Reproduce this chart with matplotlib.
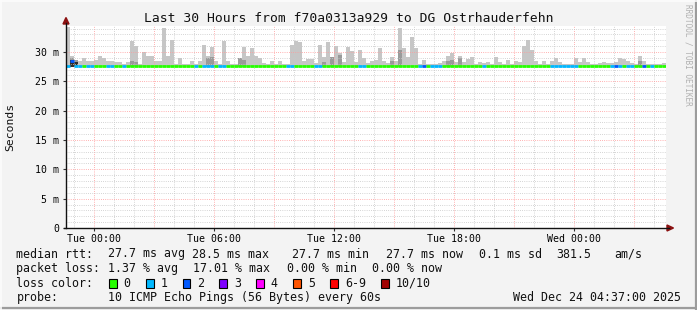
import matplotlib
matplotlib.use("Agg")
import matplotlib.pyplot as plt
from matplotlib.patches import Rectangle, Polygon
from matplotlib.lines import Line2D

W, H, DPI = 697, 310, 100
MONO = "DejaVu Sans Mono"

# ---------------- data ----------------
title = "Last 30 Hours from f70a0313a929 to DG Ostrhauderfehn"
t_start = -1.3833          # Mon 22:37 in hours relative to Tue 00:00
bin_hours = 0.2            # 12 minute consolidation steps
smoke_low = 27.5
smoke_max = [
    34.2, 29.4, 28.4, 28.4, 29.0, 28.4, 28.4, 28.7, 29.4, 29.0,
    28.4, 28.4, 28.3, 28.3, 28.0, 28.3, 31.9, 31.0, 28.0, 30.0,
    29.3, 29.3, 28.4, 28.4, 34.1, 29.4, 32.0, 28.0, 29.0, 28.0,
    28.0, 28.4, 28.0, 28.4, 31.2, 29.3, 30.8, 28.4, 28.0, 31.9,
    28.4, 28.0, 28.0, 28.4, 30.8, 29.4, 30.7, 29.4, 28.9, 28.2,
    28.0, 28.4, 28.0, 28.4, 28.0, 28.0, 31.2, 31.9, 31.7, 28.4,
    28.8, 28.8, 28.2, 31.2, 29.2, 31.7, 29.2, 31.0, 29.8, 28.3,
    30.8, 30.2, 28.3, 30.4, 28.9, 28.2, 28.4, 28.6, 30.7, 28.4,
    28.2, 29.2, 28.4, 34.1, 30.7, 29.2, 32.6, 30.7, 28.0, 28.6,
    28.0, 28.0, 28.0, 28.2, 28.4, 29.4, 29.8, 28.3, 29.4, 28.3,
    28.8, 29.2, 28.0, 28.3, 28.2, 28.3, 28.0, 29.2, 28.3, 28.0,
    28.6, 28.0, 28.4, 28.3, 31.0, 32.0, 30.3, 28.4, 28.0, 28.4,
    28.0, 28.4, 29.0, 28.3, 28.0, 28.0, 28.0, 28.9, 28.3, 29.0,
    28.3, 28.0, 28.0, 28.2, 28.3, 28.2, 28.2, 28.3, 29.0, 28.8,
    28.4, 28.2, 28.0, 29.4, 28.4, 27.9, 27.9, 27.9, 28.0, 28.2,
]
dark_bins = [1, 2, 16, 17, 35, 36, 43, 44, 64, 66, 68, 81, 83, 95, 96, 98, 143]
dark_top = [28.9, 28.6, 28.5, 28.3, 28.9, 29.1, 28.9, 28.7, 28.3, 29.1, 29.5,
            28.5, 30.3, 28.4, 28.6, 28.9, 28.4]
black_bins = [1, 2]
black_top = [28.6, 28.3]
median = [
    27.7, 28.5, 27.7, 27.7, 27.7, 27.7, 27.7, 27.7, 27.7, 27.7,
    27.7, 27.7, 27.7, 27.7, 27.7, 27.7, 27.7, 27.7, 27.7, 27.7,
    27.7, 27.7, 27.7, 27.7, 27.7, 27.7, 27.7, 27.7, 27.7, 27.7,
    27.7, 27.7, 27.7, 27.7, 27.7, 27.7, 27.7, 27.7, 27.7, 27.7,
    27.7, 27.7, 27.7, 27.7, 27.7, 27.7, 27.7, 27.7, 27.7, 27.7,
    27.7, 27.7, 27.7, 27.7, 27.7, 27.6, 27.6, 27.7, 27.7, 27.6,
    27.7, 27.6, 27.6, 27.6, 27.7, 27.7, 27.7, 27.7, 27.7, 27.7,
    27.7, 27.7, 27.7, 27.6, 27.6, 27.6, 27.7, 27.7, 27.7, 27.7,
    27.7, 27.7, 27.7, 27.7, 27.7, 27.7, 27.7, 27.7, 27.7, 27.7,
    27.7, 27.7, 27.7, 27.7, 27.7, 27.7, 27.7, 27.7, 27.7, 27.7,
    27.7, 27.7, 27.7, 27.7, 27.6, 27.7, 27.7, 27.6, 27.7, 27.7,
    27.7, 27.7, 27.7, 27.7, 27.7, 27.7, 27.7, 27.7, 27.7, 27.7,
    27.7, 27.6, 27.6, 27.6, 27.6, 27.6, 27.6, 27.6, 27.7, 27.7,
    27.7, 27.7, 27.7, 27.7, 27.7, 27.7, 27.6, 27.7, 27.6, 27.7,
    27.6, 27.6, 27.7, 27.7, 27.7, 27.7, 27.6, 27.7, 27.7, 27.7,
]
loss = [
    1, 2, 1, 1, 0, 1, 1, 0, 0, 0,
    1, 1, 0, 0, 1, 0, 0, 0, 0, 0,
    0, 0, 0, 0, 0, 0, 0, 0, 0, 0,
    0, 0, 1, 0, 1, 1, 1, 0, 1, 1,
    0, 0, 0, 0, 0, 0, 0, 0, 0, 0,
    0, 0, 0, 0, 0, 1, 1, 0, 0, 0,
    0, 0, 1, 1, 0, 0, 0, 0, 0, 0,
    0, 0, 0, 1, 1, 0, 0, 0, 0, 0,
    0, 0, 0, 0, 0, 0, 0, 0, 1, 2,
    0, 1, 1, 1, 0, 0, 0, 0, 0, 0,
    0, 0, 0, 0, 1, 0, 0, 0, 0, 0,
    0, 0, 0, 0, 0, 0, 0, 0, 0, 0,
    0, 1, 1, 1, 1, 1, 1, 1, 0, 0,
    0, 0, 0, 0, 0, 0, 1, 2, 1, 0,
    1, 1, 0, 0, 2, 0, 1, 0, 0, 0,
]
loss_colors = ["#26ff00", "#00b8ff", "#0059ff", "#7e00ff", "#ff00ff",
               "#ff5500", "#ff0000", "#a10000"]
loss_labels = ["0", "1", "2", "3", "4", "5", "6-9", "10/10"]
y_ticks = [0, 5, 10, 15, 20, 25, 30]
y_tick_labels = ["0", "5 m", "10 m", "15 m", "20 m", "25 m", "30 m"]
x_ticks = [0, 6, 12, 18, 24]
x_tick_labels = ["Tue 00:00", "Tue 06:00", "Tue 12:00", "Tue 18:00", "Wed 00:00"]
legend_rows = [
    [("median rtt:", 16.4), ("27.7 ms avg", 107.6), ("28.5 ms max", 192.0),
     ("27.7 ms min", 292.0), ("27.7 ms now", 385.8), ("0.1 ms sd", 479.0),
     ("381.5", 556.4), ("am/s", 614.2)],
    [("packet loss:", 16.4), ("1.37 % avg", 107.6), ("17.01 % max", 193.3),
     ("0.00 % min", 286.7), ("0.00 % now", 372.4)],
]
probe_text = "10 ICMP Echo Pings (56 Bytes) every 60s"
stamp_text = "Wed Dec 24 04:37:00 2025"

# ---------------- figure ----------------
fig = plt.figure(figsize=(W / DPI, H / DPI), dpi=DPI, facecolor="#f3f3f3")


def fx(px):
    return px / W


def fy(py):
    return 1 - py / H


AX_L, AX_R, AX_B, AX_T = 66.0, 666.0, 228.0, 26.2
ax = fig.add_axes([fx(AX_L), fy(AX_B), (AX_R - AX_L) / W, (AX_B - AX_T) / H])
ax.set_facecolor("white")
ax.set_xlim(t_start, t_start + 30)
ax.set_ylim(0, 34.4)
for s in ax.spines.values():
    s.set_visible(False)

n = len(smoke_max)
starts = [t_start + i * bin_hours for i in range(n)]

# smoke
ax.bar(starts, [m - smoke_low for m in smoke_max], bottom=smoke_low,
       width=bin_hours, align="edge", color="#c6c6c6", linewidth=0, zorder=2)
ax.bar([starts[i] for i in dark_bins], [d - smoke_low for d in dark_top],
       bottom=smoke_low, width=bin_hours, align="edge", color="#9a9a9a",
       linewidth=0, zorder=2.1)
ax.bar([starts[i] for i in black_bins], [d - smoke_low for d in black_top],
       bottom=smoke_low, width=bin_hours, align="edge", color="#2e2e2e",
       linewidth=0, zorder=2.2)

# grid (drawn over the smoke, like rrdtool)
DOT = (0, (0.72, 1.44))
for h in range(-1, 29):
    major = (h % 3 == 0)
    ax.axvline(h, color="#ff9a9a" if major else "#c8c8c8", lw=0.72,
               ls=DOT, zorder=3)
for v in range(1, 35):
    major = (v % 5 == 0)
    ax.axhline(v, color="#ff9a9a" if major else "#c8c8c8", lw=0.72,
               ls=DOT, zorder=3)

# median line coloured by loss
lc = ax.hlines(median, starts, [s + bin_hours for s in starts],
               colors=[loss_colors[l] for l in loss], linewidth=2.0, zorder=4)
lc.set_capstyle("butt")

# ticks
ax.set_yticks(y_ticks)
ax.set_yticklabels(y_tick_labels, family=MONO, fontsize=7.1)
ax.set_xticks(x_ticks)
ax.set_xticklabels(x_tick_labels, family=MONO, fontsize=7.1)
ax.tick_params(axis="y", direction="out", length=2.5, width=0.8, color="#333333",
               pad=2.5)
ax.tick_params(axis="x", direction="out", length=2.0, width=0.8, color="#333333",
               pad=2.0)

# axes lines with arrows
fig.add_artist(Line2D([fx(AX_L), fx(AX_L)], [fy(AX_B), fy(23)], color="#111111",
                      lw=1.0, transform=fig.transFigure))
fig.add_artist(Line2D([fx(AX_L - 2), fx(669)], [fy(AX_B), fy(AX_B)], color="#111111",
                      lw=1.0, transform=fig.transFigure))
fig.add_artist(Polygon([[fx(AX_L - 3), fy(24)], [fx(AX_L + 3), fy(24)],
                        [fx(AX_L), fy(17.5)]], closed=True, color="#8b1010",
                       transform=fig.transFigure))
fig.add_artist(Polygon([[fx(667), fy(AX_B - 3)], [fx(667), fy(AX_B + 3)],
                        [fx(673.5), fy(AX_B)]], closed=True, color="#8b1010",
                       transform=fig.transFigure))

# title / labels
fig.text(fx(348.5), fy(19), title, family=MONO, fontsize=9.4, ha="center",
         va="center", color="#111111")
fig.text(fx(10.5), fy(127), "Seconds", family=MONO, fontsize=8.2, rotation=90,
         ha="center", va="center", color="#111111")
fig.text(fx(688), fy(4), "RRDTOOL / TOBI OETIKER", family=MONO, fontsize=5.6,
         rotation=270, ha="center", va="top", color="#b0b0b0")

# legend
row_y = [254.0, 268.7, 283.3, 297.8]
for r, items in enumerate(legend_rows):
    for txt, px in items:
        fig.text(fx(px), fy(row_y[r]), txt, family=MONO, fontsize=8.4,
                 ha="left", va="center", color="#111111")
fig.text(fx(16.4), fy(row_y[2]), "loss color:", family=MONO, fontsize=8.4,
         ha="left", va="center", color="#111111")
box_x = [108.9, 145.8, 182.6, 219.4, 256.2, 293.2, 330.2, 381.3]
for bx, col, lab in zip(box_x, loss_colors, loss_labels):
    fig.add_artist(Rectangle((fx(bx), fy(row_y[2] + 4.5)), 7.8 / W, 9.0 / H,
                             facecolor=col, edgecolor="black", lw=0.8,
                             transform=fig.transFigure))
    fig.text(fx(bx + 14.7), fy(row_y[2]), lab, family=MONO, fontsize=8.4,
             ha="left", va="center", color="#111111")
fig.text(fx(16.4), fy(row_y[3]), "probe:", family=MONO, fontsize=8.4,
         ha="left", va="center", color="#111111")
fig.text(fx(107.6), fy(row_y[3]), probe_text, family=MONO, fontsize=8.4,
         ha="left", va="center", color="#111111")
fig.text(fx(681), fy(row_y[3]), stamp_text, family=MONO, fontsize=8.4,
         ha="right", va="center", color="#111111")

# 3D-ish frame
fig.add_artist(Line2D([0, 1], [fy(308), fy(308)], color="#9c9c9c", lw=1.6,
                      transform=fig.transFigure))
fig.add_artist(Line2D([fx(695.5), fx(695.5)], [0, 1], color="#9c9c9c", lw=1.6,
                      transform=fig.transFigure))
fig.add_artist(Line2D([0, 1], [fy(0.6), fy(0.6)], color="#fcfcfc", lw=1.2,
                      transform=fig.transFigure))
fig.add_artist(Line2D([fx(0.6), fx(0.6)], [0, 1], color="#fcfcfc", lw=1.2,
                      transform=fig.transFigure))

fig.savefig("out.png", dpi=DPI, facecolor=fig.get_facecolor())
